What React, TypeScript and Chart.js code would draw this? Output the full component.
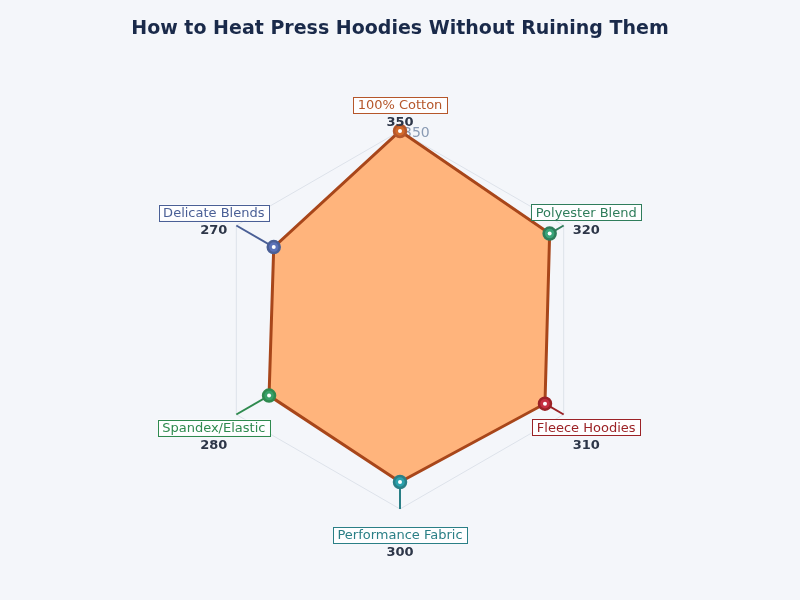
import React, { useEffect, useRef } from "react";
import { Chart, registerables } from "chart.js";

Chart.register(...registerables);

// Fabric types, clockwise from the top
const categories = [
    "100% Cotton",
    "Polyester Blend",
    "Fleece Hoodies",
    "Performance Fabric",
    "Spandex/Elastic",
    "Delicate Blends",
];

// Heat press temperature (°F)
const temperatures = [350, 320, 310, 300, 280, 270];

// Label / marker colours per fabric
const labelColors = ["#b5562a", "#2f7d5b", "#9b2226", "#2a7f86", "#2f8a4f", "#4a5f96"];
const pointColors = ["#d2692a", "#3aa57a", "#c53041", "#2aa1ad", "#38a169", "#5b72b8"];

const axisMax = 350;
const BG = "#f4f6fa";
const FONT = "'DejaVu Sans', sans-serif";

const App: React.FC = () => {
    const canvasRef = useRef<HTMLCanvasElement | null>(null);

    useEffect(() => {
        document.body.style.margin = "0";
        document.body.style.background = BG;
        if (!canvasRef.current) return;

        const labelPlugin = {
            id: "fabricLabels",
            beforeDatasetsDraw: (chart: any) => {
                const ctx = chart.ctx;
                const scale = chart.scales.r;
                const R = scale.drawingArea;
                ctx.save();
                // leader lines from marker out to the grid edge
                temperatures.forEach((v, i) => {
                    const p = scale.getPointPositionForValue(i, v);
                    const q = scale.getPointPosition(i, R);
                    ctx.strokeStyle = labelColors[i];
                    ctx.lineWidth = 2;
                    ctx.beginPath();
                    ctx.moveTo(p.x, p.y);
                    ctx.lineTo(q.x, q.y);
                    ctx.stroke();
                });
                // the single radial tick label
                ctx.fillStyle = "#8a9bb4";
                ctx.font = `14px ${FONT}`;
                ctx.textAlign = "left";
                ctx.textBaseline = "middle";
                ctx.fillText(String(axisMax), scale.xCenter + 3, scale.yCenter - R + 2);
                ctx.restore();
            },
            afterDatasetsDraw: (chart: any) => {
                const ctx = chart.ctx;
                const scale = chart.scales.r;
                const R = scale.drawingArea;
                ctx.save();
                temperatures.forEach((v, i) => {
                    // white dot in the middle of each marker
                    const p = scale.getPointPositionForValue(i, v);
                    ctx.fillStyle = "#ffffff";
                    ctx.beginPath();
                    ctx.arc(p.x, p.y, 2, 0, Math.PI * 2);
                    ctx.fill();

                    const c = scale.getPointPosition(i, R + 26);
                    ctx.font = `13px ${FONT}`;
                    const w = ctx.measureText(categories[i]).width + 9;
                    const h = 16;
                    ctx.fillStyle = "rgba(255,255,255,0.85)";
                    ctx.fillRect(c.x - w / 2, c.y - h / 2, w, h);
                    ctx.strokeStyle = labelColors[i];
                    ctx.lineWidth = 1;
                    ctx.strokeRect(Math.round(c.x - w / 2) + 0.5, Math.round(c.y - h / 2) + 0.5, Math.round(w), h);
                    ctx.fillStyle = labelColors[i];
                    ctx.textAlign = "center";
                    ctx.textBaseline = "middle";
                    ctx.fillText(categories[i], c.x, c.y + 1);

                    ctx.font = `bold 13px ${FONT}`;
                    ctx.fillStyle = "#2d3648";
                    ctx.fillText(String(v), c.x, c.y + 18);
                });
                ctx.restore();
            },
        };

        const chart = new Chart(canvasRef.current, {
            type: "radar",
            data: {
                labels: categories,
                datasets: [
                    {
                        label: "Temperature",
                        data: temperatures,
                        backgroundColor: "#ffb47c",
                        borderColor: "#a8461a",
                        borderWidth: 3,
                        fill: true,
                        pointRadius: 6,
                        pointBorderWidth: 2.5,
                        pointBackgroundColor: pointColors,
                        pointBorderColor: labelColors,
                    },
                ],
            },
            options: {
                animation: false,
                responsive: true,
                maintainAspectRatio: false,
                layout: { padding: { top: 0, bottom: 90, left: 0, right: 0 } },
                scales: {
                    r: {
                        min: 0,
                        max: axisMax,
                        ticks: { display: false, stepSize: axisMax },
                        grid: { color: "#dde2ea", lineWidth: 1 },
                        angleLines: { display: false },
                        pointLabels: { display: false },
                    },
                },
                plugins: {
                    legend: { display: false },
                    tooltip: { enabled: false },
                    title: {
                        display: true,
                        text: "How to Heat Press Hoodies Without Ruining Them",
                        color: "#1a2a4a",
                        font: { family: FONT, size: 19, weight: "bold" },
                        padding: { top: 18, bottom: 90 },
                    },
                },
            },
            plugins: [labelPlugin],
        });

        return () => chart.destroy();
    }, []);

    return (
        <div style={{ width: 800, height: 600, background: BG, position: "relative" }}>
            <canvas ref={canvasRef} />
        </div>
    );
};

export default App;
